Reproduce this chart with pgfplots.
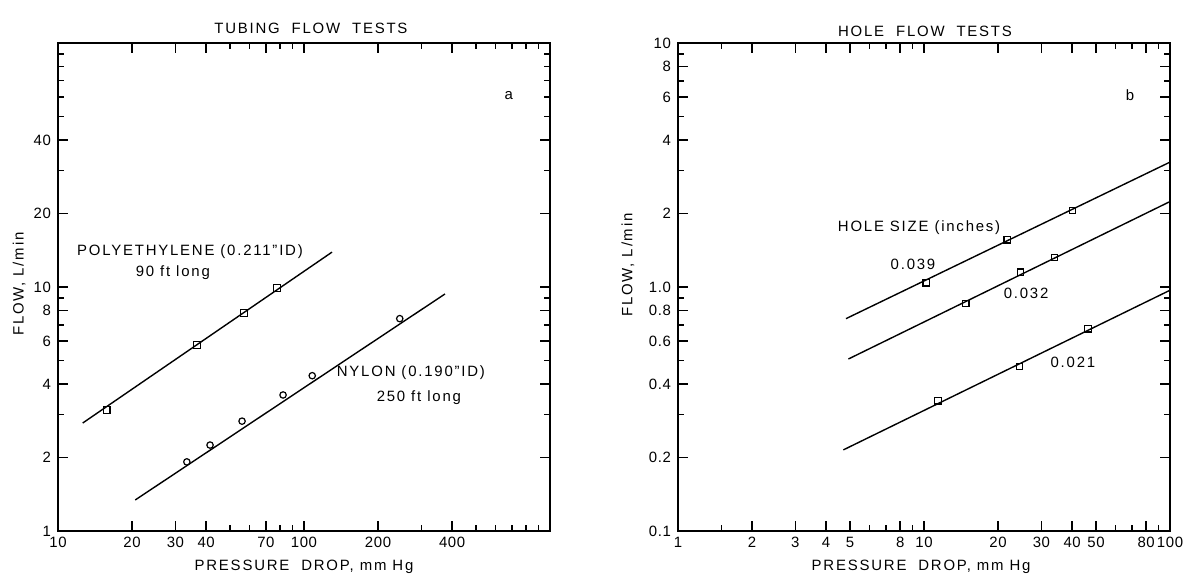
\documentclass[border=0pt]{standalone}
\usepackage{fontspec}
\setmainfont[LetterSpace=12]{Liberation Sans}
\newfontfamily\tickfont[LetterSpace=4]{Liberation Sans}
\usepackage{pgfplots}
\pgfplotsset{compat=1.18}
\pgfplotsset{
  myax/.style={
    scale only axis, width=246bp, height=244bp,
    anchor=south west,
    axis line style={line width=1bp},
    every tick/.style={black, line width=0.7bp},
    major tick length=5bp, minor tick length=3bp,
    tick align=inside,
    font=\fontsize{7.5}{9}\selectfont,
    tick label style={font=\tickfont\fontsize{7.5}{9}\selectfont},
    xticklabel style={yshift=0.5bp},
    clip=false,
  },
  fitline/.style={black, line width=0.7bp},
  pts/.style={only marks, black, mark size=1.6bp, mark options={line width=0.6bp, fill=white}},
}
\begin{document}
\begin{tikzpicture}
\path[use as bounding box] (0,0) rectangle (595bp,288bp);

% ---------- panel a ----------
\begin{loglogaxis}[myax, at={(29bp,22.5bp)},
  xmin=10, xmax=1000, ymin=1, ymax=100,
  xtick={10,20,30,40,70,100,200,400},
  xticklabels={10,20,30,40,70,100,200,400},
  minor xtick={50,60,80,90,300,500,600,700,800,900},
  ytick={1,2,4,6,8,10,20,40},
  yticklabels={1,2,4,6,8,10,20,40},
  minor ytick={3,5,7,9,30,50,60,70,80,90},
  title={TUBING\ \ FLOW\ \ TESTS},
  title style={at={(axis description cs:0.514,1)}, anchor=center, yshift=1.5bp},
  xlabel={PRESSURE\ \ DROP, mm Hg},
  xlabel style={at={(axis description cs:0.5,0)}, anchor=center, yshift=-18bp},
  ylabel={FLOW, L/min},
  ylabel style={at={(axis description cs:-0.079,0.506)}, anchor=center},
]
\addplot[fitline] coordinates {(12.6,2.77) (130,13.9)};
\addplot[pts, mark=square] coordinates {(15.8,3.13) (36.7,5.79) (57.0,7.82) (77.6,9.9)};
\addplot[fitline] coordinates {(20.6,1.34) (374,9.36)};
\addplot[pts, mark=o] coordinates {(33.4,1.92) (41.5,2.25) (56.0,2.82) (82.2,3.61) (108,4.33) (245,7.42)};
\node[anchor=west] at (axis cs:11.2,13.9) {POLYETHYLENE (0.211"ID)};
\node at (axis cs:29.3,11.4) {90 ft long};
\node at (axis cs:272,4.44) {NYLON (0.190"ID)};
\node at (axis cs:293,3.51) {250 ft long};
\node at (axis cs:680,61) {a};
\end{loglogaxis}

% ---------- panel b ----------
\begin{loglogaxis}[myax, at={(339bp,22.5bp)},
  xmin=1, xmax=100, ymin=0.1, ymax=10,
  xtick={1,2,3,4,5,8,10,20,30,40,50,80,100},
  xticklabels={1,2,3,4,5,8,10,20,30,40,50,80,100},
  minor xtick={1.5,6,7,9,60,70,90},
  ytick={0.1,0.2,0.4,0.6,0.8,1,2,4,6,8,10},
  yticklabels={0.1,0.2,0.4,0.6,0.8,1.0,2,4,6,8,10},
  minor ytick={0.3,0.5,0.7,0.9,3,5,7,9},
  title={HOLE\ \ FLOW\ \ TESTS},
  title style={at={(axis description cs:0.502,1)}, anchor=center, yshift=0bp},
  xlabel={PRESSURE\ \ DROP, mm Hg},
  xlabel style={at={(axis description cs:0.494,0)}, anchor=center, yshift=-18bp},
  ylabel={FLOW, L/min},
  ylabel style={at={(axis description cs:-0.102,0.545)}, anchor=center},
]
\addplot[fitline] coordinates {(4.82,0.742) (100,3.25)};
\addplot[pts, mark=square] coordinates {(10.2,1.04) (21.8,1.56) (40.1,2.06)};
\addplot[fitline] coordinates {(4.93,0.507) (100,2.24)};
\addplot[pts, mark=square] coordinates {(14.8,0.855) (24.7,1.15) (33.9,1.32)};
\addplot[fitline] coordinates {(4.70,0.215) (100,0.97)};
\addplot[pts, mark=square] coordinates {(11.4,0.342) (24.4,0.472) (46.4,0.674)};
\node at (axis cs:9.55,1.75) {HOLE SIZE (inches)};
\node at (axis cs:9.02,1.24) {0.039};
\node at (axis cs:26.0,0.944) {0.032};
\node at (axis cs:40.3,0.489) {0.021};
\node at (axis cs:68.8,6.1) {b};
\end{loglogaxis}
\end{tikzpicture}
\end{document}
